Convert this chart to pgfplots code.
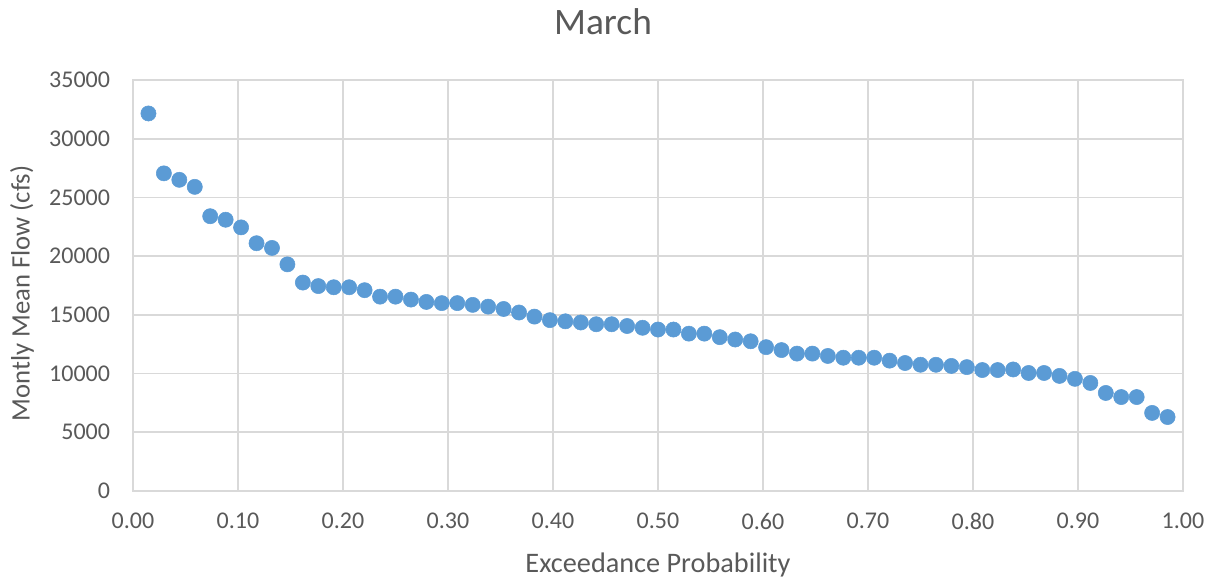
\documentclass[border=0pt]{standalone}
\usepackage{fontspec}
\setmainfont{Carlito}
\usepackage{pgfplots}
\pgfplotsset{compat=1.18}
\definecolor{txt}{HTML}{595959}
\definecolor{gridc}{HTML}{D9D9D9}
\definecolor{mk}{HTML}{5B9BD5}
\begin{document}
\begin{tikzpicture}
\useasboundingbox (-99.75pt,-67.5pt) rectangle (814.5pt,368.25pt);
\begin{axis}[
  at={(0,0)}, anchor=south west,
  scale only axis, width=787.5pt, height=308.25pt,
  xmin=0, xmax=1, ymin=0, ymax=35000,
  xtick={0,0.1,...,1.0}, ytick={0,5000,...,35000},
  xticklabels={0.00,0.10,0.20,0.30,0.40,0.50,0.60,0.70,0.80,0.90,1.00},
  yticklabels={0,5000,10000,15000,20000,25000,30000,35000},
  scaled y ticks=false, scaled x ticks=false,
  major tick length=0pt,
  grid=major,
  grid style={draw=gridc, line width=1.2pt},
  axis line style={draw=gridc, line width=1.2pt},
  tick label style={font=\fontsize{18pt}{20pt}\selectfont, text=txt},
  xticklabel style={anchor=north, inner sep=0pt, yshift=-16.5pt},
  yticklabel style={anchor=east, inner sep=0pt, xshift=-17pt},
  xlabel={Exceedance Probability},
  ylabel={Montly Mean Flow (cfs)},
  every axis x label/.style={at={([yshift=-55.5pt]axis description cs:0.5,0)}, anchor=center, font=\fontsize{21.2pt}{23pt}\selectfont, text=txt},
  every axis y label/.style={at={([xshift=-83.25pt,yshift=-6pt]axis description cs:0,0.5)}, anchor=center, rotate=90, font=\fontsize{20pt}{22pt}\selectfont, text=txt},
  title={March},
  every axis title/.style={at={([xshift=-41.25pt,yshift=43.5pt]axis description cs:0.5,1)}, anchor=center, font=\fontsize{28pt}{30pt}\selectfont, text=txt},
]
\addplot[only marks, mark=*, mark size=5.7pt, mark options={fill=mk, draw=mk}] table[x expr=\thisrow{i}/68, y=q] {
i q
1 32150
2 27050
3 26500
4 25900
5 23400
6 23100
7 22450
8 21100
9 20700
10 19300
11 17750
12 17450
13 17350
14 17350
15 17100
16 16550
17 16550
18 16300
19 16100
20 16000
21 16000
22 15850
23 15700
24 15500
25 15200
26 14850
27 14550
28 14450
29 14350
30 14200
31 14200
32 14050
33 13900
34 13750
35 13750
36 13400
37 13400
38 13100
39 12900
40 12750
41 12250
42 12000
43 11700
44 11700
45 11500
46 11350
47 11350
48 11350
49 11100
50 10900
51 10750
52 10750
53 10650
54 10550
55 10300
56 10300
57 10350
58 10050
59 10050
60 9800
61 9550
62 9200
63 8350
64 8000
65 8000
66 6650
67 6300
};
\end{axis}
\end{tikzpicture}
\end{document}
